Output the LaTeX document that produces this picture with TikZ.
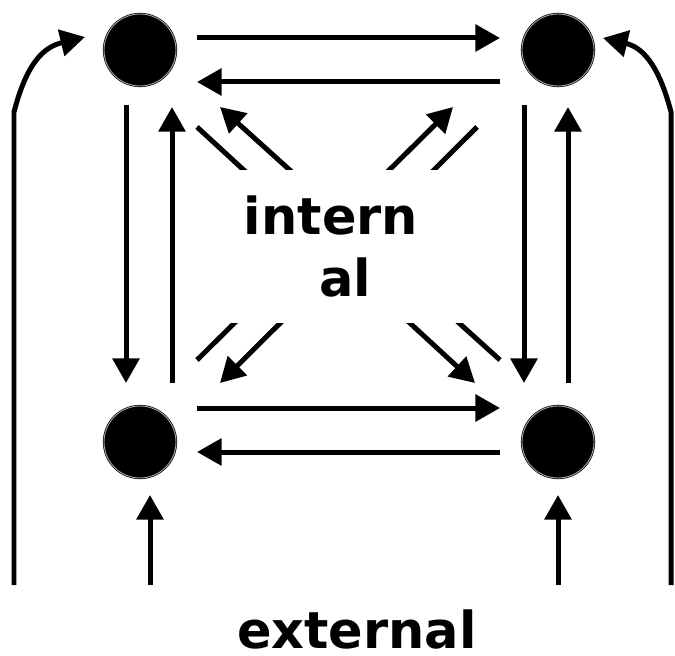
\documentclass[tikz,border=0pt]{standalone}
\usepackage{fontspec}
\setmainfont{DejaVu Sans}
\usetikzlibrary{arrows.meta}

\tikzset{
  dot/.style={circle,fill=black,draw=black,double=gray!70,double distance=0.5pt,
    line width=0.4pt,minimum size=1.44cm,inner sep=0pt},
  arr/.style={line width=0.1cm,-{Triangle[length=14pt,width=15pt]}},
  word/.style={font=\fontsize{29}{35.7}\selectfont\bfseries}
}

\begin{document}
\begin{tikzpicture}[x=0.02cm,y=-0.02cm]
\useasboundingbox (0,0) rectangle (675,655);

% states
\foreach \n/\x/\y in {tl/140/50, tr/558/50, bl/140/442, br/558/442}
  \node[dot] (\n) at (\x,\y) {};

% internal transitions
\foreach \a/\ax/\ay/\b/\bx/\by in {
    tl/57/-12/tr/-58/-12, tr/-58/32/tl/57/32,
    bl/57/-34/br/-58/-34, br/-58/10/bl/57/10,
    tl/-14/55/bl/-14/-59, bl/32/-59/tl/32/57,
    tr/-34/55/br/-34/-59, br/10/-59/tr/10/57,
    tl/57/77/br/-83/-59, br/-58/-82/tl/80/57,
    bl/57/-82/tr/-105/57, tr/-81/77/bl/80/-59}
  \draw[arr] ([shift={(\ax,\ay)}]\a.center) -- ([shift={(\bx,\by)}]\b.center);

% label over the crossing
\node[word,fill=white,align=center,minimum width=6cm,minimum height=3.06cm]
  (int) at (345,246.5) {intern\kern0.55em\\al};

% external inputs
\coordinate (el) at (14,585);
\coordinate (er) at (671,585);
\coordinate (ebl) at (150,585);
\coordinate (ebr) at (558,585);
\draw[arr] (el) -- (14,112) .. controls (27,62) and (44,47) .. ([shift={(-55,-13)}]tl.center);
\draw[arr] (er) -- (671,112) .. controls (658,62) and (641,47) .. ([shift={(45,-12)}]tr.center);
\draw[arr] (ebl) -- ([shift={(10,53)}]bl.center);
\draw[arr] (ebr) -- ([shift={(0,53)}]br.center);

\node[word,anchor=base,inner sep=0pt] (ext) at (357,648) {external};
\end{tikzpicture}
\end{document}
